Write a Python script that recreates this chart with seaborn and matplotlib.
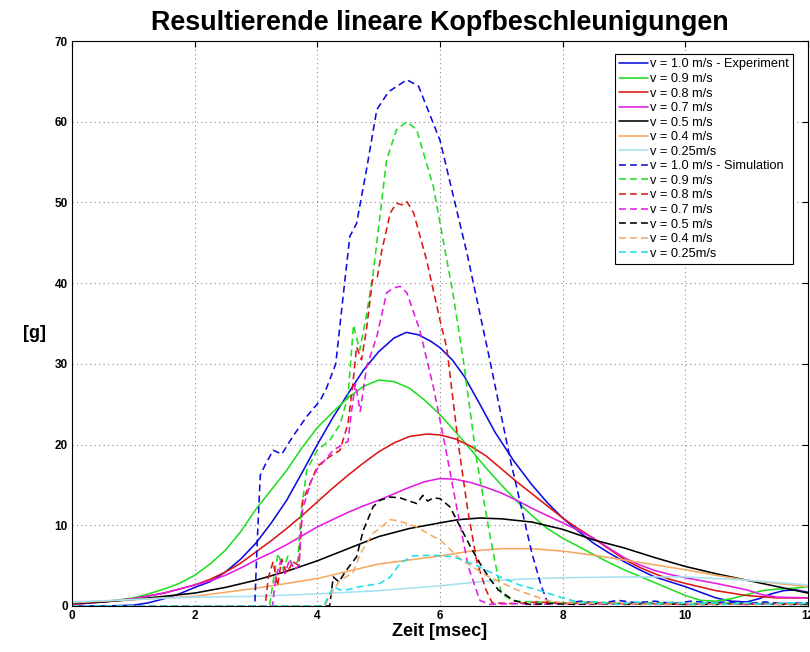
import matplotlib
matplotlib.use("Agg")
import matplotlib.pyplot as plt
import seaborn as sns
import pandas as pd

# ---------------- data ----------------
labels = ["v = 1.0 m/s - Experiment", "v = 0.9 m/s", "v = 0.8 m/s", "v = 0.7 m/s",
          "v = 0.5 m/s", "v = 0.4 m/s", "v = 0.25m/s",
          "v = 1.0 m/s - Simulation", "v = 0.9 m/s", "v = 0.8 m/s", "v = 0.7 m/s",
          "v = 0.5 m/s", "v = 0.4 m/s", "v = 0.25m/s"]

# Experiment (solid)
exp10_x = [0, 0.5, 1.0, 1.25, 1.5, 1.75, 2.0, 2.25, 2.5, 2.75, 3.0, 3.25, 3.5, 3.75, 4.0, 4.25, 4.5, 4.75, 5.0, 5.25, 5.45, 5.65, 5.85,
           6.0, 6.2, 6.4, 6.65, 6.9, 7.2, 7.5, 7.75, 8.0, 8.25, 8.5, 8.75, 9.0, 9.25, 9.5, 9.75, 10.0, 10.25, 10.5, 10.75, 11.0, 11.2,
           11.4, 11.6, 11.8, 12.0]
exp10_y = [0.0, 0.0, 0.1, 0.4, 0.9, 1.5, 2.3, 3.0, 4.2, 5.8, 7.8, 10.3, 13.1, 16.5, 20.0, 23.3, 26.3, 29.2, 31.5, 33.2, 33.9, 33.6, 32.8,
           32.0, 30.5, 28.4, 25.0, 21.5, 18.0, 15.0, 12.8, 10.9, 9.3, 7.8, 6.6, 5.5, 4.5, 3.6, 3.0, 2.4, 1.7, 1.0, 0.6, 0.5, 0.9,
           1.5, 1.9, 2.0, 1.7]
exp09_x = [0, 0.5, 1.0, 1.25, 1.5, 1.75, 2.0, 2.25, 2.5, 2.75, 3.0, 3.25, 3.5, 3.75, 4.0, 4.25, 4.5, 4.75, 5.0, 5.25, 5.5, 5.75, 6.0,
           6.25, 6.5, 6.75, 7.0, 7.25, 7.5, 7.75, 8.0, 8.25, 8.5, 8.75, 9.0, 9.25, 9.5, 9.75, 10.0, 10.25, 10.5, 10.75, 11.0, 11.25,
           11.5, 11.75, 12.0]
exp09_y = [0.3, 0.5, 1.0, 1.5, 2.1, 2.8, 3.8, 5.2, 6.9, 9.2, 12.0, 14.4, 16.8, 19.6, 22.1, 24.0, 25.8, 27.2, 28.0, 27.8, 27.0, 25.5, 23.7,
           21.6, 19.4, 17.1, 15.0, 13.0, 11.2, 9.6, 8.4, 7.4, 6.4, 5.4, 4.5, 3.7, 2.9, 2.1, 1.3, 0.7, 0.6, 0.9, 1.4, 1.9,
           2.1, 2.2, 2.4]
exp08_x = [0, 0.5, 1.0, 1.5, 2.0, 2.25, 2.5, 2.75, 3.0, 3.25, 3.5, 3.75, 4.0, 4.25, 4.5, 4.75, 5.0, 5.25, 5.5, 5.78, 6.0, 6.25, 6.5,
           6.75, 7.0, 7.25, 7.5, 7.75, 8.0, 8.25, 8.5, 8.75, 9.0, 9.25, 9.5, 9.75, 10.0, 10.5, 11.0, 11.5, 12.0]
exp08_y = [0.2, 0.5, 0.9, 1.6, 2.6, 3.3, 4.2, 5.3, 6.7, 8.1, 9.6, 11.2, 12.9, 14.6, 16.2, 17.7, 19.1, 20.2, 21.0, 21.3, 21.2, 20.7, 19.8,
           18.6, 17.0, 15.4, 13.9, 12.4, 10.9, 9.6, 8.4, 7.1, 5.8, 4.8, 4.0, 3.3, 2.8, 1.9, 1.3, 1.0, 1.0]
exp07_x = [0, 0.5, 1.0, 1.5, 2.0, 2.25, 2.5, 2.75, 3.0, 3.25, 3.5, 3.75, 4.0, 4.25, 4.5, 4.75, 5.0, 5.25, 5.5, 5.75, 6.0, 6.25, 6.5,
           6.75, 7.0, 7.25, 7.5, 7.75, 8.0, 8.25, 8.5, 8.75, 9.0, 9.25, 9.5, 9.75, 10.0, 10.5, 11.0, 11.25, 11.5, 12.0]
exp07_y = [0.2, 0.5, 0.9, 1.6, 2.6, 3.1, 3.8, 4.7, 5.7, 6.6, 7.6, 8.7, 9.8, 10.7, 11.6, 12.4, 13.1, 13.9, 14.7, 15.4, 15.8, 15.7, 15.3,
           14.7, 14.0, 13.1, 12.1, 11.2, 10.3, 9.4, 8.4, 7.2, 6.0, 5.1, 4.4, 3.9, 3.5, 2.8, 2.0, 1.4, 1.1, 1.0]
exp05_x = [0, 0.5, 1.0, 1.5, 2.0, 2.5, 3.0, 3.5, 4.0, 4.5, 5.0, 5.5, 6.0, 6.3, 6.65, 7.0, 7.5, 8.0, 8.5, 9.0, 9.5, 10.0, 10.5, 11.0,
           11.5, 12.0]
exp05_y = [0.3, 0.5, 0.8, 1.2, 1.6, 2.3, 3.2, 4.3, 5.6, 7.1, 8.6, 9.6, 10.3, 10.7, 10.9, 10.8, 10.4, 9.5, 8.2, 7.2, 6.0, 4.9, 4.0, 3.2,
           2.4, 1.6]
exp04_x = [0, 1.0, 2.0, 2.5, 3.0, 3.5, 4.0, 4.5, 5.0, 5.5, 6.0, 6.5, 7.0, 7.5, 8.0, 8.5, 9.0, 9.5, 10.0, 10.5, 11.0, 11.5, 12.0]
exp04_y = [0.4, 0.8, 1.2, 1.7, 2.2, 2.8, 3.4, 4.3, 5.2, 5.7, 6.2, 6.8, 7.1, 7.1, 6.8, 6.3, 5.7, 5.1, 4.5, 3.8, 3.2, 2.8, 2.4]
exp025_x = [0, 1.0, 2.0, 3.0, 4.0, 5.0, 6.0, 6.65, 7.25, 8.0, 9.0, 10.0, 11.0, 11.5, 12.0]
exp025_y = [0.5, 0.8, 1.1, 1.2, 1.5, 1.9, 2.5, 3.0, 3.3, 3.5, 3.6, 3.6, 3.2, 2.9, 2.6]

# Simulation (dashed)
sim10_x = [0, 2.98, 3.02, 3.07, 3.15, 3.28, 3.42, 3.6, 3.83, 4.05, 4.15, 4.3, 4.45, 4.53, 4.64, 4.8, 4.97, 5.16, 5.46, 5.65, 6.0, 6.44, 6.8, 7.15, 7.5, 7.65, 7.75,
           8.0, 8.3, 8.6, 8.9, 9.2, 9.5, 9.8, 10.1, 10.4, 10.7, 11.0, 11.3, 11.6, 12.0]
sim10_y = [0, 0, 8.0, 16.2, 17.5, 19.3, 18.8, 21.0, 23.5, 25.5, 27.0, 30.0, 40.4, 45.8, 47.4, 54.0, 61.5, 63.7, 65.2, 64.4, 57.7, 43.7, 30.9, 18.0, 6.5, 2.5, 0.5,
           0.3, 0.6, 0.3, 0.7, 0.4, 0.6, 0.3, 0.6, 0.4, 0.5, 0.3, 0.5, 0.3, 0.4]
sim09_x = [0, 3.22, 3.3, 3.36, 3.45, 3.52, 3.6, 3.68, 3.74, 3.83, 4.0, 4.2, 4.37, 4.5, 4.59, 4.69, 4.8, 4.91, 5.13, 5.29, 5.46, 5.62, 5.89, 6.21, 6.38, 6.6, 6.82, 7.0, 7.2,
           7.6, 8.0, 8.5, 9.0, 9.5, 10.0, 10.5, 11.0, 11.5, 12.0]
sim09_y = [0, 0, 4.0, 6.5, 4.5, 6.2, 5.0, 5.5, 12.0, 16.9, 19.3, 20.5, 22.5, 26.0, 34.8, 31.7, 36.0, 41.2, 55.3, 59.0, 60.0, 59.0, 52.0, 38.8, 30.5, 18.0, 8.5, 1.5, 0.6,
           0.5, 0.4, 0.5, 0.3, 0.4, 0.3, 0.4, 0.3, 0.3, 0.3]
sim08_x = [0, 3.15, 3.2, 3.28, 3.35, 3.42, 3.5, 3.6, 3.7, 3.76, 4.0, 4.2, 4.37, 4.5, 4.58, 4.64, 4.72, 4.8, 4.9, 4.98, 5.05, 5.19, 5.29, 5.38, 5.46, 5.57, 5.78,
           6.0, 6.11, 6.3, 6.45, 6.6, 6.75, 6.85, 7.2, 7.6, 8.0, 8.5, 9.0, 9.5, 10.0, 10.5, 11.0, 11.5, 12.0]
sim08_y = [0, 0, 3.5, 5.5, 2.5, 5.8, 4.0, 5.5, 5.0, 13.0, 17.3, 18.5, 19.3, 22.6, 27.6, 32.1, 30.5, 34.2, 40.4, 40.8, 44.0, 48.7, 49.9, 49.7, 50.1, 48.7, 42.9,
           35.4, 32.0, 20.0, 12.0, 5.5, 2.0, 0.4, 0.3, 0.5, 0.3, 0.4, 0.3, 0.3, 0.2, 0.3, 0.2, 0.3, 0.2]
sim07_x = [0, 3.27, 3.32, 3.4, 3.47, 3.55, 3.62, 3.7, 3.76, 3.9, 4.0, 4.26, 4.5, 4.56, 4.62, 4.7, 4.8, 4.97, 5.13, 5.24, 5.35, 5.46, 5.67, 5.89, 6.08, 6.27, 6.46,
           6.65, 6.8, 7.2, 7.6, 8.0, 8.5, 9.0, 9.5, 10.0, 10.5, 11.0, 11.5, 12.0]
sim07_y = [0, 0, 3.5, 5.5, 4.0, 5.8, 4.5, 5.0, 12.0, 15.5, 17.0, 19.3, 20.4, 24.3, 27.5, 24.1, 29.5, 33.4, 38.8, 39.4, 39.6, 38.8, 34.2, 27.2, 20.0, 12.3, 4.9,
           0.7, 0.2, 0.3, 0.2, 0.3, 0.2, 0.3, 0.2, 0.2, 0.3, 0.2, 0.3, 0.2]
sim05_x = [0, 4.2, 4.26, 4.35, 4.48, 4.64, 4.75, 4.91, 5.02, 5.19, 5.35, 5.46, 5.62, 5.72, 5.8, 5.89, 6.0, 6.16, 6.33, 6.5, 6.65, 6.8, 6.95, 7.2, 7.45,
           7.8, 8.2, 8.6, 9.0, 9.5, 10.0, 10.5, 11.0, 11.5, 12.0]
sim05_y = [0, 0, 3.6, 3.0, 4.5, 6.1, 9.4, 12.3, 13.1, 13.5, 13.4, 13.1, 12.7, 13.7, 13.0, 13.4, 13.3, 12.3, 9.8, 7.3, 5.3, 3.5, 2.0, 0.7, 0.2,
           0.3, 0.2, 0.3, 0.2, 0.3, 0.2, 0.2, 0.3, 0.2, 0.2]
sim04_x = [0, 4.12, 4.2, 4.37, 4.58, 4.7, 4.91, 5.19, 5.35, 5.62, 5.89, 6.0, 6.35, 6.75, 7.25, 7.74, 8.0, 8.5, 9.0, 9.5, 10.0, 10.5, 11.0, 11.5, 12.0]
sim04_y = [0, 0, 1.2, 3.2, 4.1, 6.5, 9.0, 10.7, 10.5, 9.8, 8.6, 8.2, 5.7, 3.8, 2.0, 0.7, 0.4, 0.3, 0.3, 0.2, 0.3, 0.2, 0.3, 0.2, 0.3]
sim025_x = [0, 4.1, 4.2, 4.26, 4.37, 4.48, 4.7, 5.02, 5.19, 5.35, 5.56, 5.89, 6.22, 6.6, 6.98, 7.3, 7.63, 8.0, 8.3,
            8.6, 8.9, 9.2, 9.5, 9.8, 10.1, 10.4, 10.7, 11.0, 11.3, 11.6, 12.0]
sim025_y = [0, 0, 1.5, 2.4, 2.0, 2.0, 2.4, 2.8, 3.6, 5.3, 6.2, 6.3, 6.1, 5.0, 3.6, 2.6, 1.9, 1.0, 0.4,
            0.5, 0.2, 0.5, 0.2, 0.5, 0.2, 0.4, 0.2, 0.4, 0.2, 0.4, 0.3]

xs = [exp10_x, exp09_x, exp08_x, exp07_x, exp05_x, exp04_x, exp025_x,
      sim10_x, sim09_x, sim08_x, sim07_x, sim05_x, sim04_x, sim025_x]
ys = [exp10_y, exp09_y, exp08_y, exp07_y, exp05_y, exp04_y, exp025_y,
      sim10_y, sim09_y, sim08_y, sim07_y, sim05_y, sim04_y, sim025_y]

colors = ['#0d0de0', '#22dd22', '#dd1616', '#e31be3', '#000000', '#f5a862', '#a6e1f2',
          '#0d0de0', '#22dd22', '#dd1616', '#e31be3', '#000000', '#f5a862', '#22dde6']
styles = ['-'] * 7 + [(0, (4.3, 2.6))] * 7

x_ticks = [0, 2, 4, 6, 8, 10, 12]
y_ticks = [0, 10, 20, 30, 40, 50, 60, 70]

# ---------------- plot ----------------
sns.set_theme(style="white")
plt.rcParams['font.family'] = ['Liberation Sans', 'DejaVu Sans']
plt.rcParams['text.color'] = 'black'
plt.rcParams['axes.labelcolor'] = 'black'
plt.rcParams['xtick.color'] = 'black'
plt.rcParams['ytick.color'] = 'black'

fig = plt.figure(figsize=(8.1, 6.52), dpi=100)
ax = fig.add_axes([72 / 810, 1 - 606 / 652, 736 / 810, 565 / 652])

for i in range(len(xs)):
    df = pd.DataFrame({"t": xs[i], "g": ys[i]})
    sns.lineplot(data=df, x="t", y="g", ax=ax, color=colors[i], linestyle=styles[i],
                 linewidth=1.15, label=labels[i], sort=False, estimator=None)

ax.set_xlim(0, 12)
ax.set_ylim(0, 70)
ax.set_xticks(x_ticks)
ax.set_yticks(y_ticks)
ax.tick_params(direction='in', length=4, width=0.8, top=True, right=True,
               labelsize=8.5, pad=3, colors='black')
for lab in ax.get_xticklabels() + ax.get_yticklabels():
    lab.set_fontweight('bold')
ax.grid(True, color='#888888', linestyle=(0, (1, 3)), linewidth=0.8)
for s in ax.spines.values():
    s.set_visible(True)
    s.set_color('black')
    s.set_linewidth(0.8)

ax.set_title("Resultierende lineare Kopfbeschleunigungen", fontsize=19.4, fontweight='bold',
             pad=8, color='black')
ax.set_xlabel("Zeit [msec]", fontsize=13, fontweight='bold', color='black')
ax.xaxis.set_label_coords(0.5, -0.046)
ax.xaxis.label.set_va('center')
ax.set_ylabel("[g]", fontsize=13, fontweight='bold', rotation=0, ha='center', va='center',
              color='black')
ax.yaxis.set_label_coords(-0.0503, 0.483)

leg = ax.legend(loc='upper right', bbox_to_anchor=(0.9796, 0.977), borderaxespad=0,
                fontsize=9.2, frameon=True, fancybox=False, framealpha=1,
                edgecolor='black', handlelength=2.3, handletextpad=0.1,
                labelspacing=0.2, borderpad=0.35)
leg.get_frame().set_linewidth(0.8)
for t in leg.get_texts():
    t.set_color('black')

fig.savefig("out.png", dpi=100)
